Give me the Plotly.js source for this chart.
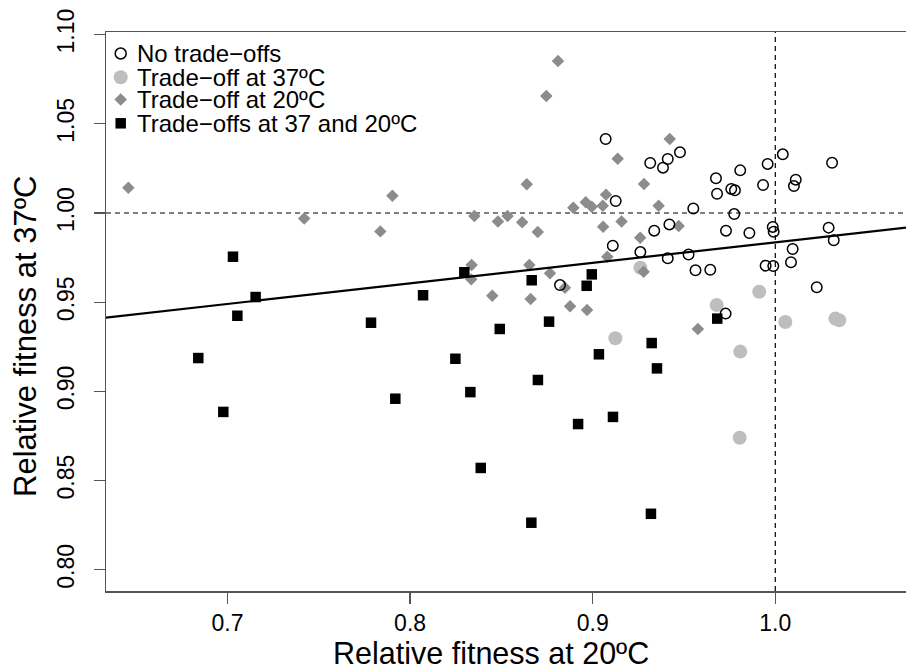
<!DOCTYPE html>
<html><head><meta charset="utf-8">
<script src="https://cdn.plot.ly/plotly-3.0.1.min.js"></script>
<style>html,body{margin:0;padding:0;background:#fff;overflow:hidden}</style>
</head><body><div id="chart" style="width:906px;height:672px"></div>
<script>
// No trade-offs (open circles)
const noTradeX = [0.9071,0.9315,0.9411,0.9385,0.9478,0.9126,0.9551,0.9337,0.9420,0.9110,0.9261,0.9411,0.9525,0.9563,0.8821,0.9728,1.0041,0.9958,1.0311,0.9808,0.9675,1.0112,1.0102,0.9759,0.9779,0.9933,0.9681,0.9775,0.9986,0.9991,1.0292,1.0320,0.9730,0.9858,1.0095,0.9644,0.9947,0.9989,1.0086,1.0227];
const noTradeY = [1.0415,1.0280,1.0303,1.0254,1.0340,1.0067,1.0025,0.9901,0.9936,0.9817,0.9781,0.9746,0.9767,0.9679,0.9596,0.9436,1.0329,1.0275,1.0282,1.0239,1.0195,1.0187,1.0151,1.0135,1.0127,1.0157,1.0108,0.9994,0.9922,0.9895,0.9918,0.9847,0.9901,0.9888,0.9798,0.9682,0.9705,0.9703,0.9724,0.9584];
// Trade-off at 37ºC (light grey circles)
const t37X = [0.9261,0.9124,0.9679,0.9912,1.0055,1.0329,1.0350,0.9808,0.9805];
const t37Y = [0.9693,0.9298,0.9484,0.9559,0.9389,0.9408,0.9399,0.9223,0.8740];
// Trade-off at 20ºC (grey diamonds)
const t20X = [0.6457,0.7420,0.7903,0.7837,0.8810,0.8746,0.9422,0.9137,0.8639,0.9281,0.9073,0.8962,0.8995,0.9055,0.8894,0.9361,0.8352,0.8481,0.8534,0.8614,0.8699,0.9057,0.9158,0.9471,0.9260,0.8337,0.8335,0.8450,0.8653,0.8660,0.8766,0.8848,0.8876,0.8969,0.9080,0.9279,0.9576];
const t20Y = [1.0142,0.9969,1.0097,0.9897,1.0852,1.0656,1.0415,1.0304,1.0161,1.0163,1.0103,1.0060,1.0035,1.0041,1.0030,1.0041,0.9983,0.9953,0.9983,0.9948,0.9893,0.9923,0.9952,0.9927,0.9861,0.9709,0.9628,0.9536,0.9709,0.9518,0.9662,0.9581,0.9477,0.9456,0.9755,0.9671,0.9350];
// Trade-offs at 37 and 20ºC (black squares)
const bothX = [0.7030,0.7154,0.7054,0.6840,0.7786,0.8071,0.7919,0.6977,0.8297,0.8666,0.8995,0.8967,0.8761,0.8491,0.8248,0.8330,0.8700,0.9034,0.9323,0.9352,0.9111,0.8920,0.8387,0.9319,0.8664,0.9682];
const bothY = [0.9755,0.9529,0.9424,0.9187,0.9385,0.9539,0.8959,0.8885,0.9668,0.9623,0.9656,0.9592,0.9391,0.9350,0.9183,0.8996,0.9064,0.9208,0.9271,0.9129,0.8857,0.8817,0.8571,0.8314,0.8264,0.9408];
// Regression line endpoints
const fitX = [0.60, 1.10];
const fitY = [0.9375, 0.9951];
// Reference lines
const refX = 1.0, refY = 1.0;
// Tick values / labels
const xTicks = [0.7, 0.8, 0.9, 1.0];
const xTickText = ['0.7', '0.8', '0.9', '1.0'];
const yTicks = [0.80, 0.85, 0.90, 0.95, 1.00, 1.05, 1.10];
const yTickText = ['0.80', '0.85', '0.90', '0.95', '1.00', '1.05', '1.10'];
const legendLabels = ['No trade\u2212offs', 'Trade\u2212off at 37\u00baC', 'Trade\u2212off at 20\u00baC', 'Trade\u2212offs at 37 and 20\u00baC'];
const xTitle = 'Relative fitness at 20\u00baC';
const yTitle = 'Relative fitness at 37\u00baC';

const FONT = '"Liberation Sans", Arial, Helvetica, sans-serif';
const AX = '#555';

const traces = [
  {x: t37X, y: t37Y, mode: 'markers', type: 'scatter', name: legendLabels[1],
   marker: {symbol: 'circle', size: 14, color: '#bebebe', line: {width: 0}}},
  {x: t20X, y: t20Y, mode: 'markers', type: 'scatter', name: legendLabels[2],
   marker: {symbol: 'diamond', size: 9.6, color: '#8c8c8c', line: {width: 0}}},
  {x: bothX, y: bothY, mode: 'markers', type: 'scatter', name: legendLabels[3],
   marker: {symbol: 'square', size: 10.5, color: '#000000', line: {width: 0}}},
  {x: noTradeX, y: noTradeY, mode: 'markers', type: 'scatter', name: legendLabels[0],
   marker: {symbol: 'circle-open', size: 10.5, color: '#000000', line: {width: 1.5}}},
  {x: fitX, y: fitY, mode: 'lines', type: 'scatter', name: 'fit',
   line: {color: '#000000', width: 2.2}}
];

// paper helpers for legend placement
const plotL = 106, plotT = 32, plotW = 800, plotH = 559;
const px = v => (v - plotL) / plotW;
const py = v => (plotT + plotH - v) / plotH;
const legRows = [53.5, 77.3, 99.5, 123.3];
const legSymX = px(120.7), legTextX = px(135.5);

const shapes = [
  {type: 'line', xref: 'paper', yref: 'y', x0: 0, x1: 1, y0: refY, y1: refY,
   line: {color: '#000', width: 1.2, dash: '5px,4px'}, layer: 'below'},
  {type: 'line', xref: 'x', yref: 'paper', x0: refX, x1: refX, y0: 0, y1: 1,
   line: {color: '#000', width: 1.2, dash: '5px,4px'}, layer: 'below'},
  // legend keys
  {type: 'circle', xref: 'paper', yref: 'paper', xsizemode: 'pixel', ysizemode: 'pixel',
   xanchor: legSymX, yanchor: py(legRows[0]), x0: -5.5, x1: 5.5, y0: -5.5, y1: 5.5,
   line: {color: '#000', width: 1.5}, fillcolor: 'rgba(0,0,0,0)'},
  {type: 'circle', xref: 'paper', yref: 'paper', xsizemode: 'pixel', ysizemode: 'pixel',
   xanchor: legSymX, yanchor: py(legRows[1]), x0: -7, x1: 7, y0: -7, y1: 7,
   line: {width: 0}, fillcolor: '#bebebe'},
  {type: 'path', xref: 'paper', yref: 'paper', xsizemode: 'pixel', ysizemode: 'pixel',
   xanchor: legSymX, yanchor: py(legRows[2]), path: 'M0,6.3 L6.3,0 L0,-6.3 L-6.3,0 Z',
   line: {width: 0}, fillcolor: '#8c8c8c'},
  {type: 'rect', xref: 'paper', yref: 'paper', xsizemode: 'pixel', ysizemode: 'pixel',
   xanchor: legSymX, yanchor: py(legRows[3]), x0: -5.25, x1: 5.25, y0: -5.25, y1: 5.25,
   line: {width: 0}, fillcolor: '#000'}
];

const annotations = legendLabels.map((t, i) => ({
  text: t, xref: 'paper', yref: 'paper', x: legTextX, y: py(legRows[i]),
  xanchor: 'left', yanchor: 'middle', showarrow: false, borderpad: 0,
  font: {family: FONT, size: 24, color: '#000'}
}));
annotations.push({text: xTitle, xref: 'paper', yref: 'paper', x: px(491), y: py(653),
  xanchor: 'center', yanchor: 'middle', showarrow: false, borderpad: 0,
  font: {family: FONT, size: 30.5, color: '#000'}});
annotations.push({text: yTitle, xref: 'paper', yref: 'paper', x: px(25), y: py(337),
  xanchor: 'center', yanchor: 'middle', showarrow: false, textangle: -90, borderpad: 0,
  font: {family: FONT, size: 31, color: '#000'}});

const layout = {
  width: 906, height: 672,
  margin: {l: 106, r: 0, t: 32, b: 81, pad: 0},
  paper_bgcolor: '#fff', plot_bgcolor: '#fff',
  showlegend: false,
  font: {family: FONT, color: '#000'},
  xaxis: {range: [0.63346, 1.07158], tickvals: xTicks, ticktext: xTickText,
    showgrid: false, zeroline: false, showline: true, mirror: true, linecolor: AX, linewidth: 1.5,
    ticks: 'outside', ticklen: 11, tickwidth: 1.3, tickcolor: AX, ticklabelstandoff: 0,
    tickfont: {family: FONT, size: 23, color: '#000'}},
  yaxis: {range: [0.78812, 1.10146], tickvals: yTicks, ticktext: yTickText,
    showgrid: false, zeroline: false, showline: true, mirror: false, linecolor: AX, linewidth: 1.5,
    ticks: 'outside', ticklen: 11, tickwidth: 1.3, tickcolor: AX, tickangle: -90,
    ticklabelstandoff: 10,
    tickfont: {family: FONT, size: 23, color: '#000'}},
  shapes: shapes,
  annotations: annotations
};

Plotly.newPlot('chart', traces, layout, {displayModeBar: false, staticPlot: true});
</script></body></html>
